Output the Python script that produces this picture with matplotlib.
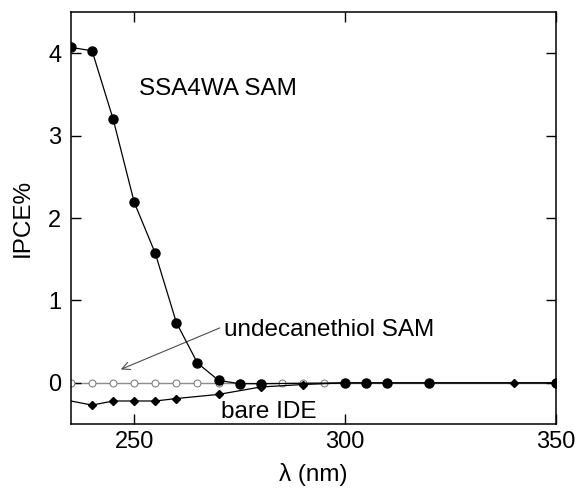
import matplotlib
matplotlib.use('Agg')
import matplotlib.pyplot as plt

plt.rcParams['font.family'] = ['Liberation Sans', 'DejaVu Sans']

# SSA4WA SAM photocurrent
ssa_wl = [235, 240, 245, 250, 255, 260, 265, 270, 275, 280, 300, 305, 310, 320, 350]
ssa_ipce = [4.07, 4.03, 3.20, 2.19, 1.57, 0.73, 0.24, 0.03, -0.01, -0.01, 0.0, 0.0, 0.0, 0.0, 0.0]

# undecanethiol SAM
und_wl = [235, 240, 245, 250, 255, 260, 265, 270, 275, 280, 285, 290, 295]
und_ipce = [0.0] * len(und_wl)

# bare IDE
ide_wl = [230, 240, 245, 250, 255, 260, 270, 280, 290, 300, 305, 310, 320, 340, 350]
ide_ipce = [-0.17, -0.27, -0.22, -0.22, -0.22, -0.19, -0.14, -0.05, -0.02, 0.0, 0.0, 0.0, 0.0, 0.0, 0.0]

fig = plt.figure(figsize=(5.77, 4.88), dpi=100)
ax = fig.add_axes([0.123, 0.131, 0.8406, 0.8444])

ax.axhline(0, color='0.55', lw=1.0, zorder=1)
ax.plot(und_wl, und_ipce, 'o', mfc='white', mec='0.45', ms=5, mew=0.7, zorder=2)
ax.plot(ide_wl, ide_ipce, 'kD-', ms=4, lw=0.9, zorder=3)
ax.plot(ssa_wl, ssa_ipce, 'ko-', ms=6.5, lw=0.9, zorder=4)

ax.text(251.2, 3.56, 'SSA4WA SAM', fontsize=17.5, va='center', ha='left')
ax.text(271.3, 0.64, 'undecanethiol SAM', fontsize=17.5, va='center', ha='left')
ax.text(270.6, -0.35, 'bare IDE', fontsize=17.5, va='center', ha='left')
ax.annotate('', xy=(246.2, 0.15), xytext=(270.9, 0.68),
            arrowprops=dict(arrowstyle='->', color='0.3', lw=0.8, mutation_scale=14))

ax.set_xlim(235, 350)
ax.set_ylim(-0.5, 4.5)
ax.set_xticks([250, 300, 350])
ax.set_yticks([0, 1, 2, 3, 4])
ax.tick_params(direction='in', top=True, right=True, length=7, width=1,
               labelsize=17)
ax.tick_params(axis='x', pad=5)
ax.tick_params(axis='y', pad=7)
for s in ax.spines.values():
    s.set_linewidth(1.1)

ax.set_xlabel('λ (nm)', fontsize=17.5, labelpad=7)
ax.set_ylabel('IPCE%', fontsize=17.5, labelpad=10)

fig.savefig('out.png', dpi=100)
